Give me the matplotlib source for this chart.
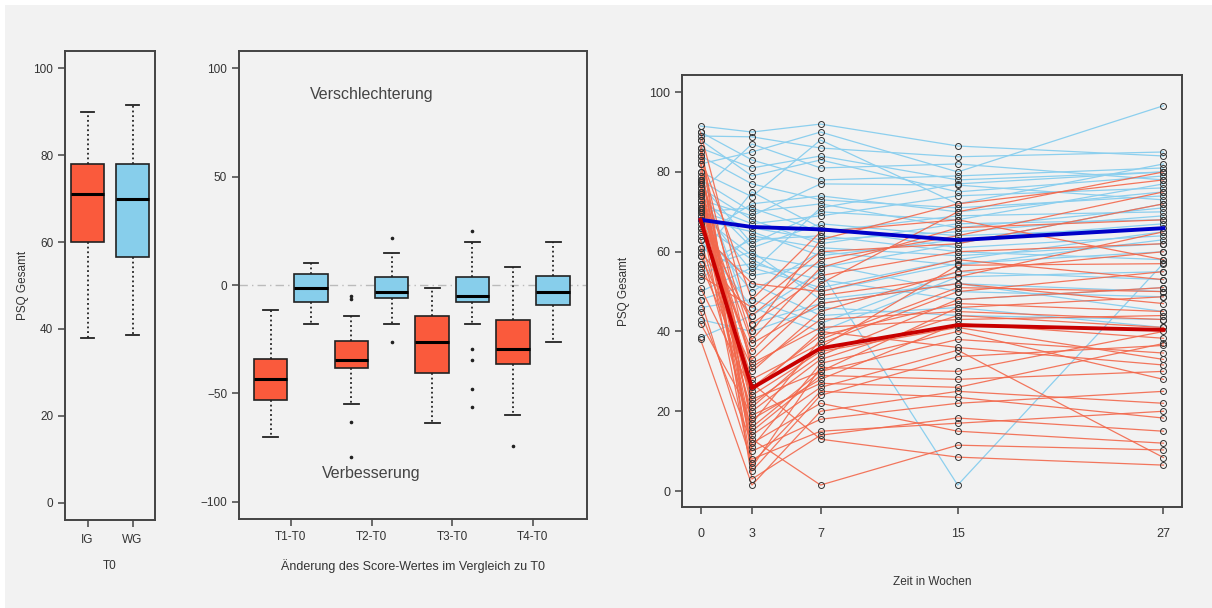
import numpy as np
import matplotlib.pyplot as plt
from matplotlib.patches import Rectangle

plt.rcParams['font.family'] = ['Liberation Sans', 'DejaVu Sans']

# ---- data -------------------------------------------------------------
# T0 boxplots: whisker low, Q1, median, Q3, whisker high
t0_groups = ['IG', 'WG']
t0_stats = [[38, 60, 71, 78, 90],
            [38.5, 56.5, 70, 78, 91.5]]

# change of score vs T0
diff_labels = ['T1-T0', 'T2-T0', 'T3-T0', 'T4-T0']
ig_diff_stats = [[-70, -53, -43.3, -34, -11.5],
                 [-55, -38.5, -34.5, -26, -14.5],
                 [-63.5, -40.5, -26.5, -14.5, -1.5],
                 [-60, -36.5, -29.5, -16, 8.5]]
wg_diff_stats = [[-18, -8, -1.5, 5, 10],
                 [-18, -6, -3, 3.5, 15],
                 [-18, -8, -5, 3.5, 20],
                 [-26.5, -9, -3, 4, 20]]
ig_diff_outliers = [[], [-5, -6.5, -63, -79.5], [], [-74.5]]
wg_diff_outliers = [[], [21.5, -26.5], [25, -29.5, -34.5, -48, -56.5], []]

# individual courses (weeks)
weeks = [0, 3, 7, 15, 27]
ig_t0 = [38, 85, 71, 60, 78, 88, 66, 74, 51, 90, 69, 57, 82, 72, 45, 79, 63, 86, 70,
         54, 77, 83, 59, 75, 68, 48, 80, 73, 61, 84, 70.5, 42, 76, 65, 78, 71, 77.5, 74.5]
ig_t3 = [1.5, 30, 13, 44, 22, 8, 35, 18, 25, 40, 5, 27, 16, 33, 12, 38, 20, 10, 28,
         46, 14, 3, 31, 21, 42, 7, 24, 37, 15, 48, 11, 19, 26, 52, 6, 32, 17, 23]
ig_t7 = [20, 45, 1.5, 58, 34, 15, 52, 28, 40, 63, 24, 13, 30, 49, 22, 56, 33, 18, 37,
         60, 26, 14, 43, 36, 54, 25, 35, 47, 29, 65, 32, 27, 39, 50, 31, 41, 38, 30]
ig_t15 = [25, 55, 11.5, 64, 48, 17, 70, 42, 36, 72, 33.7, 8.5, 46, 53.7, 15, 66, 44, 22, 50,
          62, 35.3, 18.3, 45, 56.6, 60, 23.5, 41, 52, 28, 68, 40, 26, 47, 58, 30, 43, 51, 38]
ig_t27 = [22, 60, 10.3, 75, 51, 20, 80, 38.3, 31.6, 78, 36.5, 6.5, 48.7, 65, 12, 68, 41, 25, 55,
          72, 8.4, 15, 43, 57, 62, 18.3, 33, 47, 30, 58, 28, 37, 45, 53, 40, 44, 50, 34.6]

wg_t0 = [38.5, 91.5, 82, 70, 56, 89, 64, 48, 77, 59, 86, 43, 73, 67, 88, 53, 75, 61,
         78, 46, 80, 68, 90, 55, 72, 63, 84, 57, 70, 50, 76, 66, 74, 69, 71, 78]
wg_t3 = [44, 90, 85, 66, 60, 88.8, 72, 52, 62, 75, 81, 40, 69, 58, 79, 64, 87, 54,
         70, 48, 73.8, 65, 83, 57, 67, 46, 77, 63, 71, 56, 68, 50, 61, 59, 55, 42]
wg_t7 = [55, 92, 90, 63, 48, 86, 74, 44, 70, 66, 84, 46, 77, 50, 83, 61, 81, 57,
         72, 42, 88, 59, 78, 53, 69, 40, 73, 64, 65, 51, 62, 60, 67, 56, 71, 47]
wg_t15 = [1.5, 86.5, 80, 65, 52, 83.8, 70, 46, 68, 61, 78, 44, 76.7, 57, 75, 59, 82, 50,
          66, 55, 72, 63, 79, 48, 74, 53.7, 71, 60, 69, 58, 67, 56.6, 64, 62, 77, 52]
wg_t27 = [57.1, 84, 96.6, 69, 45, 85, 75, 41, 77, 64, 80, 43, 73, 60, 79, 62, 78, 48.7,
          71, 53, 82, 67, 81, 51, 76, 55, 74, 58, 70, 65, 68, 63, 66, 72, 80, 50]

# group means over time
ig_mean = [68, 25.8, 35.8, 41.6, 40.4]
wg_mean = [68, 66.2, 65.6, 62.9, 65.9]

# ---- style ------------------------------------------------------------
bg = '#f2f2f2'
red = '#fa5a3c'
blue = '#87ceeb'
red_line = '#f2684c'
blue_line = '#8ccfee'
spine_col = '#444444'
txt = '#333333'

fig = plt.figure(figsize=(12.12, 6.08), dpi=100, facecolor='white')
fig.patches.append(Rectangle((5 / 1212, 0), 1, 1 - 5 / 608, transform=fig.transFigure,
                             facecolor=bg, edgecolor='none', zorder=-10))


def style_axes(ax, size):
    ax.set_facecolor(bg)
    for s in ax.spines.values():
        s.set_color(spine_col)
        s.set_linewidth(1.4)
    ax.tick_params(colors=spine_col, labelcolor=txt, labelsize=size, length=5, width=1.1)


def box_dicts(stats, outliers=None):
    out = []
    for i, (lo, q1, med, q3, hi) in enumerate(stats):
        fl = outliers[i] if outliers else []
        out.append(dict(whislo=lo, q1=q1, med=med, q3=q3, whishi=hi, fliers=fl))
    return out


def draw_boxes(ax, stats, positions, colors, width, capw):
    b = ax.bxp(stats, positions=positions, widths=width, capwidths=capw,
               patch_artist=True, showfliers=True, manage_ticks=False,
               boxprops=dict(edgecolor='#222222', linewidth=1.2),
               medianprops=dict(color='black', linewidth=2.2),
               whiskerprops=dict(color='#222222', linewidth=1.3, linestyle=(0, (1, 1.6))),
               capprops=dict(color='#222222', linewidth=1.3),
               flierprops=dict(marker='o', markersize=1.6, markerfacecolor='#222222',
                               markeredgecolor='#222222', linestyle='none'))
    for patch, c in zip(b['boxes'], colors):
        patch.set_facecolor(c)


# ---- panel 1: T0 ------------------------------------------------------
ax1 = fig.add_axes([65 / 1212, 1 - 520 / 608, 90 / 1212, 469 / 608])
style_axes(ax1, 8.5)
draw_boxes(ax1, box_dicts(t0_stats), [1, 2], [red, blue], 0.72, 0.3)
ax1.set_xlim(0.5, 2.5)
ax1.set_ylim(-4, 104)
ax1.set_yticks([0, 20, 40, 60, 80, 100])
ax1.set_xticks([1, 2])
ax1.set_xticklabels(t0_groups)
ax1.tick_params(axis='x', pad=5)
ax1.set_xlabel('T0', fontsize=8.5, color=txt, labelpad=10)
ax1.set_ylabel('PSQ Gesamt', fontsize=8.5, color=txt, labelpad=3)

# ---- panel 2: changes -------------------------------------------------
ax2 = fig.add_axes([239 / 1212, 1 - 519 / 608, 348 / 1212, 468 / 608])
style_axes(ax2, 8.5)
ax2.axhline(0, color='#bbbbbb', linewidth=1, linestyle=(0, (6, 3, 1, 3)), zorder=0)
stats2, pos2, cols2 = [], [], []
ig_boxes = box_dicts(ig_diff_stats, ig_diff_outliers)
wg_boxes = box_dicts(wg_diff_stats, wg_diff_outliers)
for i in range(len(diff_labels)):
    stats2 += [ig_boxes[i], wg_boxes[i]]
    pos2 += [2 * i + 1, 2 * i + 2]
    cols2 += [red, blue]
draw_boxes(ax2, stats2, pos2, cols2, 0.83, 0.37)
ax2.set_xlim(0.215, 8.84)
ax2.set_ylim(-108, 108)
ax2.set_yticks([-100, -50, 0, 50, 100])
ax2.set_xticks([1.5, 3.5, 5.5, 7.5])
ax2.set_xticklabels(diff_labels)
ax2.tick_params(axis='x', pad=4)
ax2.set_xlabel('Änderung des Score-Wertes im Vergleich zu T0', fontsize=9, color=txt, labelpad=11)
ax2.text(3.5, 88, 'Verschlechterung', ha='center', va='center', fontsize=11.5, color='#444444')
ax2.text(3.5, -87, 'Verbesserung', ha='center', va='center', fontsize=11.5, color='#444444')

# ---- panel 3: individual courses -------------------------------------
ax3 = fig.add_axes([682 / 1212, 1 - 507 / 608, 500 / 1212, 432 / 608])
style_axes(ax3, 9)
wg_rows = list(zip(wg_t0, wg_t3, wg_t7, wg_t15, wg_t27))
ig_rows = list(zip(ig_t0, ig_t3, ig_t7, ig_t15, ig_t27))
for row in wg_rows:
    ax3.plot(weeks, row, color=blue_line, linewidth=0.9, zorder=1)
for row in ig_rows:
    ax3.plot(weeks, row, color=red_line, linewidth=0.9, alpha=0.9, zorder=2)
for row in wg_rows + ig_rows:
    ax3.plot(weeks, row, linestyle='none', marker='o', markersize=4.3,
             markerfacecolor='none', markeredgecolor='#333333', markeredgewidth=0.7, zorder=3)
ax3.plot(weeks, wg_mean, color='#0000c8', linewidth=2.8, zorder=4)
ax3.plot(weeks, ig_mean, color='#c80000', linewidth=2.8, zorder=4)
ax3.set_xlim(-1.08, 28.08)
ax3.set_ylim(-4, 104.3)
ax3.set_xticks(weeks)
ax3.set_yticks([0, 20, 40, 60, 80, 100])
ax3.tick_params(axis='x', pad=10)
ax3.set_xlabel('Zeit in Wochen', fontsize=8.5, color=txt, labelpad=26)
ax3.set_ylabel('PSQ Gesamt', fontsize=8.5, color=txt, labelpad=14)

fig.savefig('out.png', dpi=100, facecolor=fig.get_facecolor())
